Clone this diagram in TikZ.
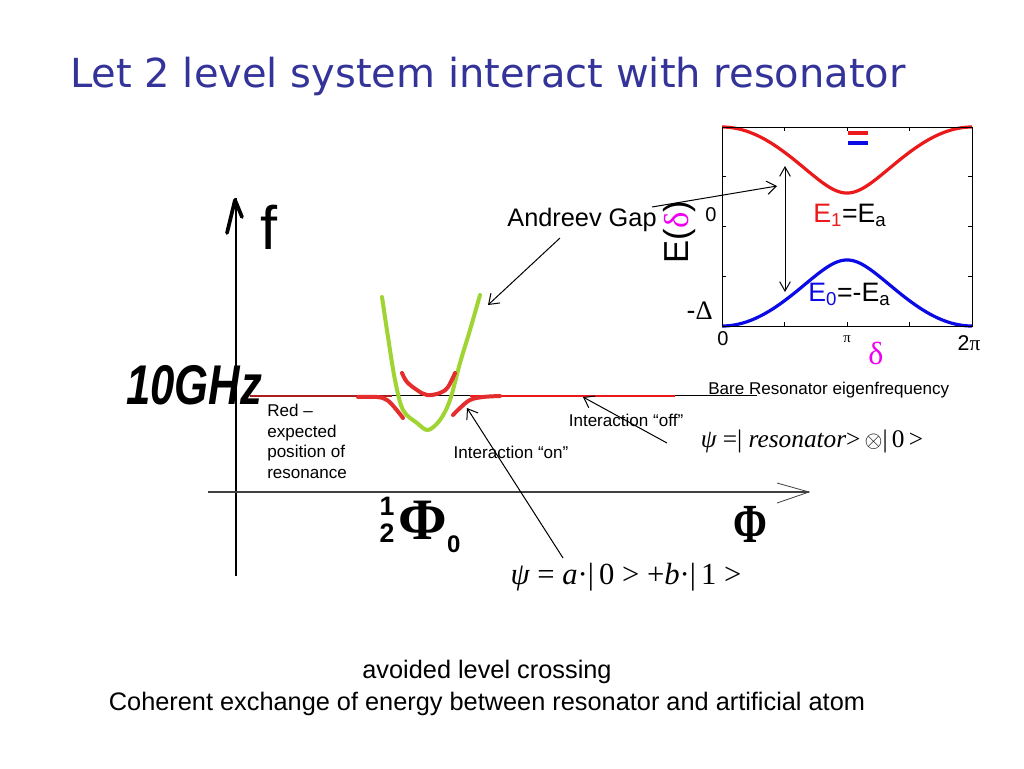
\documentclass[tikz,border=0pt]{standalone}
\usepackage{fontspec}
\usepackage{graphicx}
\setmainfont{Liberation Sans}
\newfontfamily\tnr{Liberation Serif}
\newfontfamily\ttl{DejaVu Sans}
\usetikzlibrary{arrows.meta}
\definecolor{titleblue}{RGB}{51,51,153}
\definecolor{cred}{RGB}{235,25,25}
\definecolor{cblue}{RGB}{10,10,230}
\definecolor{cgreen}{RGB}{160,212,50}
\definecolor{cmag}{RGB}{240,0,240}
\definecolor{hred}{RGB}{228,45,45}
\definecolor{dred}{RGB}{170,30,30}
\newcommand\fsz[2]{\fontsize{#1}{#2}\selectfont}
\begin{document}
\begin{tikzpicture}[x=0.75pt,y=-0.75pt,
  lbl/.style={inner sep=0pt, font=\fsz{12.8}{15.4}},
  ptr/.style={line width=0.75pt, -{Straight Barb[length=7pt,width=10pt]}},
  hand/.style={line width=2.8pt, line cap=round, line join=round},
  curve/.style={line width=2.4pt},
  sketch/.style={line width=3pt, line cap=round, line join=round}]
\useasboundingbox (0,0) rectangle (1024,768);
\fill[white] (0,0) rectangle (1024,768);

% title
\node[anchor=base west, inner sep=0pt, text=titleblue, font=\ttl\fsz{30}{36}] (title) at (70,87) {Let 2 level system interact with resonator};

% ---------- inset ----------
\draw[cred, curve, domain=722:972, samples=121, smooth] plot (\x, {226.5-99.5*sqrt(1-0.887*pow(sin((\x-722)*0.72),2))});
\draw[cblue, curve, domain=722:972, samples=121, smooth] plot (\x, {226.5+99.5*sqrt(1-0.887*pow(sin((\x-722)*0.72),2))});
\draw[line width=0.75pt] (722,127) rectangle (972,326);
\foreach \x in {784.5,847,909.5} {\draw[line width=0.6pt] (\x,127) -- (\x,131); \draw[line width=0.6pt] (\x,326) -- (\x,322);}
\foreach \y in {176.75,226.5,276.25} {\draw[line width=0.6pt] (722,\y) -- (726,\y); \draw[line width=0.6pt] (972,\y) -- (968,\y);}
\draw[cred, curve] (848,133) -- (868,133);
\draw[cblue, curve] (848,143) -- (868,143);
\coordinate (gt) at (785,166);
\coordinate (gb) at (785,292);
\draw[line width=0.75pt, {Straight Barb[length=7pt,width=8pt]}-{Straight Barb[length=7pt,width=8pt]}] (gt) -- (gb);

\node[rotate=90, inner sep=0pt, font=\fsz{26}{30}] (Ed) at (680,232) {E(\textcolor{cmag}{\tnr δ})};
\node[inner sep=0pt, font=\fsz{15}{18}] (z1) at (711,215) {0};
\node[inner sep=0pt, anchor=east, font=\fsz{20}{22}] (mD) at (713,311) {-{\tnr Δ}};
\node[inner sep=0pt, font=\fsz{15}{18}] (z2) at (723,339) {0};
\node[inner sep=0pt, font=\tnr\fsz{11}{13}] (pi) at (847,339) {π};
\node[inner sep=0pt, font=\tnr\fsz{24}{26}, text=cmag] (dl) at (876,353) {δ};
\node[inner sep=0pt, font=\fsz{16}{18}] (tp) at (969,343) {2{\tnr π}};
\node[inner sep=0pt, anchor=west, font=\fsz{20}{24}] (e1) at (813,215) {\textcolor{cred}{E\textsubscript{1}}=E\textsubscript{a}};
\node[inner sep=0pt, anchor=west, font=\fsz{20}{24}] (e0) at (808,294) {\textcolor{cblue}{E\textsubscript{0}}=-E\textsubscript{a}};

% ---------- Andreev gap ----------
\node[inner sep=0pt, font=\fsz{19}{22}] (ag) at (582,220) {Andreev Gap};
\coordinate (agR) at (652,207);
\coordinate (gapT) at (777,186);
\draw[ptr] (agR) -- (gapT);
\coordinate (agB) at (560,238);
\coordinate (grT) at (488,305);
\draw[ptr] (agB) -- (grT);

% ---------- main axes ----------
\coordinate (yb) at (236,576);
\coordinate (yt) at (236,198);
\draw[line width=0.9pt] (yb) -- (yt);
\draw[hand] (227,233) -- (235,200) -- (242,217);
\node[inner sep=0pt, font=\fsz{46}{46}] (f) at (269,227) {f};
\coordinate (xl) at (208,492);
\coordinate (xr) at (809,492);
\draw[line width=0.9pt, black!75] (xl) -- (xr);
\draw[line width=0.6pt, black!75] (777,483) -- (xr) -- (777,503);

\node[inner sep=0pt, font=\bfseries\itshape\fsz{42}{42}] (ghz) at (194,385) {\scalebox{0.78}[1]{10GHz}};
\node[inner sep=0pt] (halfphi) at (420,525) {\bfseries\fsz{20}{20}\raisebox{-2pt}{\shortstack{1\\[3pt]2}}\hspace{3pt}{\tnr\fsz{44}{44}Φ}\raisebox{-10pt}{\fsz{18}{18}0}};
\node[inner sep=0pt, font=\tnr\bfseries\fsz{36}{36}] (phi) at (750,524) {\scalebox{0.85}[1.15]{Φ}};

% resonator lines
\draw[black, line width=0.7pt] (250,395.5) -- (757,395.5);
\draw[dred, line width=1.4pt] (250,396) -- (392,396);
\draw[cred, line width=2.2pt] (470,396) -- (675,396);

% green parabola
\draw[cgreen, sketch] plot[smooth, tension=0.55] coordinates {(382,297) (388,337) (395,380) (403,410) (417,423) (428,430) (440,420) (450,400) (460,363) (470,330) (480,295)};
% red anticrossing
\draw[hred, sketch] plot[smooth, tension=0.6] coordinates {(402,373) (407,382) (417,390) (427,395) (440,393) (448,387) (455,373)};
\draw[hred, sketch] plot[smooth, tension=0.6] coordinates {(358,397) (377,397) (387,400) (395,408) (403,418)};
\draw[hred, sketch] plot[smooth, tension=0.6] coordinates {(453,415) (460,408) (470,400) (483,397) (500,396)};

% labels
\node[lbl, anchor=west] (bare) at (708,390) {Bare Resonator eigenfrequency};
\node[lbl, anchor=north west, align=left] (redn) at (267,404) {Red –\\expected\\position of\\resonance};
\node[lbl] (ioff) at (626,420) {Interaction “off”};
\node[lbl] (ion) at (511,452) {Interaction “on”};
\node[inner sep=0pt, font=\tnr\fsz{19}{24}] (psi1) at (812,441) {{\itshape ψ} =| {\itshape resonator}>\,$\otimes$|\,0\,>};
\node[inner sep=0pt, font=\tnr\fsz{23}{28}] (psi2) at (626,577) {{\itshape ψ} = {\itshape a}·|\,0 > +{\itshape b}·|\,1 >};

\coordinate (onS) at (563,558);
\coordinate (onE) at (467,408);
\draw[ptr] (onS) -- (onE);
\coordinate (offS) at (667,443);
\coordinate (offE) at (583,397);
\draw[ptr] (offS) -- (offE);

% bottom
\node[inner sep=0pt, font=\fsz{19}{23}] (b1) at (487,672) {avoided level crossing};
\node[inner sep=0pt, font=\fsz{19}{23}] (b2) at (487,704) {Coherent exchange of energy between resonator and artificial atom};
\end{tikzpicture}
\end{document}
